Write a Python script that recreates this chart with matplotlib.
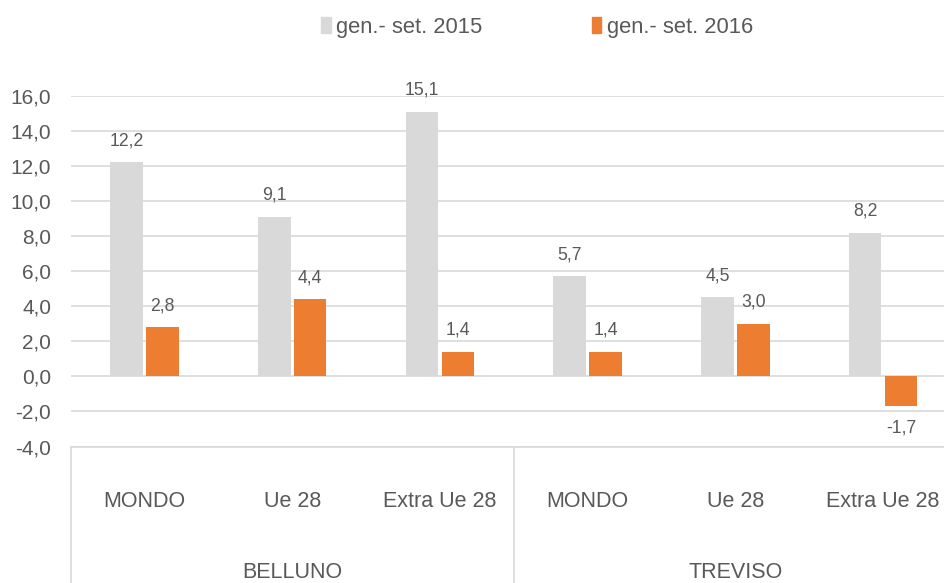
import numpy as np
import matplotlib.pyplot as plt
from matplotlib.lines import Line2D
from matplotlib.patches import Patch
import matplotlib.transforms as mtransforms

plt.rcParams['font.family'] = ['Liberation Sans', 'DejaVu Sans']

# data
groups = ['BELLUNO', 'TREVISO']
categories = ['MONDO', 'Ue 28', 'Extra Ue 28', 'MONDO', 'Ue 28', 'Extra Ue 28']
series_names = ['gen.- set. 2015', 'gen.- set. 2016']
values_2015 = [12.2, 9.1, 15.1, 5.7, 4.5, 8.2]
values_2016 = [2.8, 4.4, 1.4, 1.4, 3.0, -1.7]

col_2015 = '#D9D9D9'
col_2016 = '#ED7D31'
text_col = '#595959'
grid_col = '#D9D9D9'

fig = plt.figure(figsize=(9.44, 5.83), dpi=100)
ax = fig.add_axes([0.0748, 0.2341, 0.939, 0.6017])

x = np.arange(len(categories))
w = 0.22
off = 0.1215
ax.bar(x - off, values_2015, w, color=col_2015, zorder=3)
ax.bar(x + off, values_2016, w, color=col_2016, zorder=3)

# data labels
for xs, vals in [(x - off, values_2015), (x + off, values_2016)]:
    for xi, v in zip(xs, vals):
        dy = 15.5 if v >= 0 else -15.5
        ax.annotate(f"{v:.1f}".replace('.', ','), (xi, v), xytext=(0, dy),
                    textcoords='offset points', ha='center', va='center',
                    fontsize=12.7, color=text_col)

ax.set_xlim(-0.5, len(categories) - 0.5)
ax.set_ylim(-4, 16)
yt = np.arange(-4, 17, 2)
ax.set_yticks(yt)
ax.set_yticklabels([f"{v:.1f}".replace('.', ',') for v in yt])
ax.tick_params(axis='y', length=0, pad=14, labelsize=15, labelcolor=text_col)
ax.set_xticks([])
ax.yaxis.grid(True, color=grid_col, linewidth=1.2, zorder=0)
for s in ['left', 'right', 'top']:
    ax.spines[s].set_visible(False)
ax.spines['bottom'].set_color(grid_col)
ax.spines['bottom'].set_linewidth(1.2)

# multi-level category axis
trans = mtransforms.blended_transform_factory(ax.transData, ax.transAxes)
for xi, c in zip(x, categories):
    ax.text(xi, -0.158, c, transform=trans, ha='center', va='center',
            fontsize=15.5, color=text_col)
for i, g in enumerate(groups):
    ax.text(i * 3 + 1, -0.36, g, transform=trans, ha='center', va='center',
            fontsize=15.5, color=text_col)
for xb in [-0.5, 2.5, 5.5]:
    ax.add_line(Line2D([xb, xb], [0, -0.42], transform=trans, color=grid_col,
                       linewidth=1.2, clip_on=False))

handles = [Patch(color=col_2015), Patch(color=col_2016)]
fig.legend(handles, series_names, loc='center', bbox_to_anchor=(0.569, 0.953),
           ncol=2, frameon=False, fontsize=15.8, handlelength=0.42,
           handleheight=0.75, handletextpad=0.25, columnspacing=5.0,
           labelcolor=text_col)

fig.savefig('out.png', dpi=100)
